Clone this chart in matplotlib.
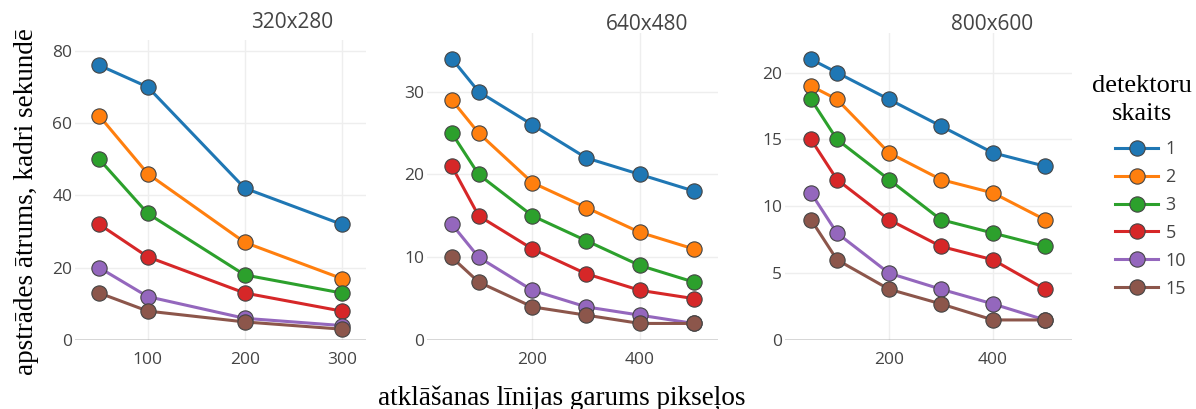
import matplotlib
matplotlib.use("Agg")
import matplotlib.pyplot as plt

# ---- data ----
detectors = ["1", "2", "3", "5", "10", "15"]
colors = ["#1f77b4", "#ff7f0e", "#2ca02c", "#d62728", "#9467bd", "#8c564b"]

titles = ["320x280", "640x480", "800x600"]

x_320 = [50, 100, 200, 300]
y_320 = [
    [76, 70, 42, 32],
    [62, 46, 27, 17],
    [50, 35, 18, 13],
    [32, 23, 13, 8],
    [20, 12, 6, 4],
    [13, 8, 5, 3],
]

x_640 = [50, 100, 200, 300, 400, 500]
y_640 = [
    [34, 30, 26, 22, 20, 18],
    [29, 25, 19, 16, 13, 11],
    [25, 20, 15, 12, 9, 7],
    [21, 15, 11, 8, 6, 5],
    [14, 10, 6, 4, 3, 2],
    [10, 7, 4, 3, 2, 2],
]

x_800 = [50, 100, 200, 300, 400, 500]
y_800 = [
    [21, 20, 18, 16, 14, 13],
    [19, 18, 14, 12, 11, 9],
    [18, 15, 12, 9, 8, 7],
    [15, 12, 9, 7, 6, 3.8],
    [11, 8, 5, 3.8, 2.7, 1.5],
    [9, 6, 3.8, 2.7, 1.5, 1.5],
]

x_ticks = [[100, 200, 300], [200, 400], [200, 400]]
y_ticks = [[0, 20, 40, 60, 80], [0, 10, 20, 30], [0, 5, 10, 15, 20]]
x_lims = [(25, 325), (4, 545), (0, 552)]
y_lims = [(0, 83.0), (0, 37.05), (0, 22.94)]

y_label = "apstrādes ātrums, kadri sekundē"
x_label = "atklāšanas līnijas garums pikseļos"
legend_title = "detektoru\nskaits"

# ---- figure ----
W, H = 1196, 409
fig = plt.figure(figsize=(W / 100, H / 100), dpi=100)
fig.patch.set_facecolor("white")

# axes boxes in pixels: left, top, right, bottom
boxes = [(75, 40, 366, 340), (427, 33.3, 718, 340), (785, 33.3, 1072, 340)]
title_pos = [(292.5, 23), (647.5, 24), (992.5, 24)]

sans = ["Open Sans", "DejaVu Sans"]
serif = ["Liberation Serif", "DejaVu Serif"]
txt = "#444444"

datasets = [(x_320, y_320), (x_640, y_640), (x_800, y_800)]
axes = []
for i, ((l, t, r, b), (xs, ys)) in enumerate(zip(boxes, datasets)):
    ax = fig.add_axes([l / W, 1 - b / H, (r - l) / W, (b - t) / H])
    axes.append(ax)
    for s, (vals, c, name) in enumerate(zip(ys, colors, detectors)):
        ax.plot(xs, vals, color=c, lw=2.2, marker="o", ms=11,
                mfc=c, mec="#444444", mew=0.8, label=name,
                clip_on=False, zorder=3 + s * 0.01)
    ax.set_xlim(*x_lims[i])
    ax.set_ylim(*y_lims[i])
    ax.set_xticks(x_ticks[i])
    ax.set_yticks(y_ticks[i])
    for sp in ax.spines.values():
        sp.set_visible(False)
    ax.grid(True, color="#eeeeee", lw=1)
    ax.set_axisbelow(True)
    ax.axhline(0, color="#444444", lw=1, zorder=2)
    ax.tick_params(length=0, labelsize=12.5, labelcolor=txt)
    ax.tick_params(axis="x", pad=9)
    ax.tick_params(axis="y", pad=2)
    for lab in ax.get_xticklabels() + ax.get_yticklabels():
        lab.set_fontfamily(sans)
    tx, ty = title_pos[i]
    fig.text(tx / W, 1 - ty / H, titles[i], ha="center", va="center",
             fontsize=15, color=txt, family=sans)

fig.text(27 / W, 1 - 202 / H, y_label, rotation=90, ha="center", va="center",
         fontsize=19.5, family=serif, color="black")
fig.text(562 / W, 1 - 405 / H, x_label, ha="center", va="baseline",
         fontsize=19.5, family=serif, color="black")

# legend title as centred two-line text
fig.text(1142 / W, 1 - 100 / H, legend_title, ha="center", va="center",
         multialignment="center", linespacing=1.3,
         fontsize=19, family=serif, color="black")

handles, labels = axes[2].get_legend_handles_labels()
leg = fig.legend(handles, labels, loc="upper left",
                 bbox_to_anchor=(1115 / W, 1 - 140 / H),
                 frameon=False,
                 prop={"family": sans, "size": 13},
                 handlelength=2.4, handletextpad=0.4, labelspacing=0.55,
                 borderaxespad=0, borderpad=0)
for t in leg.get_texts():
    t.set_color(txt)

fig.savefig("out.png", dpi=100, facecolor="white")
